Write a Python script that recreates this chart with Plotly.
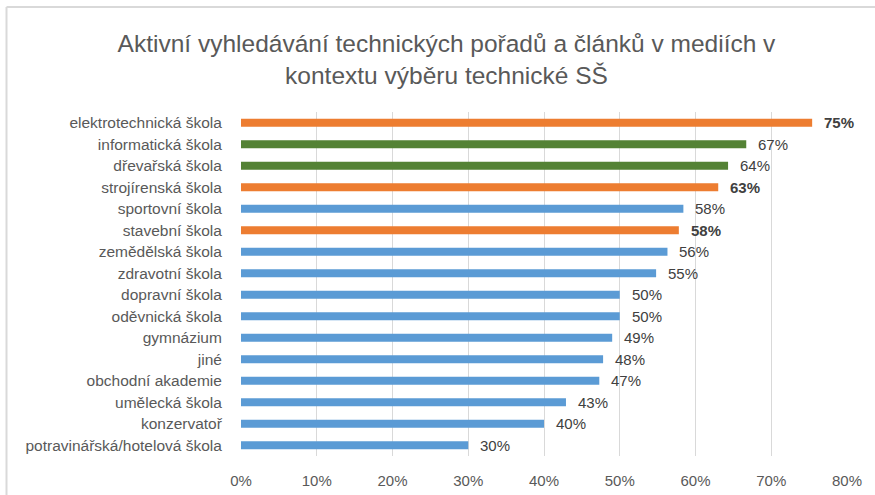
import plotly.graph_objects as go

categories = [
    "elektrotechnická škola", "informatická škola", "dřevařská škola",
    "strojírenská škola", "sportovní škola", "stavební škola",
    "zemědělská škola", "zdravotní škola", "dopravní škola",
    "oděvnická škola", "gymnázium", "jiné", "obchodní akademie",
    "umělecká škola", "konzervatoř", "potravinářská/hotelová škola",
]
values = [75.4, 66.7, 64.3, 63.0, 58.4, 57.8, 56.3, 54.8, 50.0, 50.0,
          49.0, 47.8, 47.3, 42.9, 40.0, 30.0]
groups = ["tech", "green", "green", "tech", "other", "tech", "other", "other",
          "other", "other", "other", "other", "other", "other", "other", "other"]
x_ticks = [0, 10, 20, 30, 40, 50, 60, 70, 80]
x_tick_labels = ["0%", "10%", "20%", "30%", "40%", "50%", "60%", "70%", "80%"]

color_map = {"tech": "#ED7D31", "green": "#548235", "other": "#5B9BD5"}
colors = [color_map[g] for g in groups]

FONT = "Liberation Sans"

fig = go.Figure()
fig.add_trace(go.Bar(
    x=values, y=categories, orientation="h",
    marker=dict(color=colors, line=dict(width=0)),
    width=0.38, hoverinfo="skip",
))

for c, v, g in zip(categories, values, groups):
    lbl = f"{round(v)}%"
    if g == "tech":
        lbl = f"<b>{lbl}</b>"
    fig.add_annotation(x=v, y=c, text=lbl, showarrow=False, xanchor="left",
                       xshift=10, font=dict(family=FONT, size=15, color="#404040"))

fig.update_layout(
    width=875, height=495,
    margin=dict(l=241, r=28, t=112, b=39),
    paper_bgcolor="white", plot_bgcolor="white",
    showlegend=False,
    title=dict(
        text="Aktivní vyhledávání technických pořadů a článků v mediích v<br>kontextu výběru technické SŠ",
        x=446.5 / 875, xref="container", y=1 - 52 / 495, yref="container",
        yanchor="middle", xanchor="center",
        font=dict(family=FONT, size=24.5, color="#595959"),
    ),
    xaxis=dict(
        range=[0, 80], tickvals=x_ticks, ticktext=x_tick_labels,
        showgrid=True, gridcolor="#D9D9D9", gridwidth=1, zeroline=False,
        showline=False, ticks="outside", ticklen=11, tickcolor="rgba(0,0,0,0)",
        tickfont=dict(family=FONT, size=15, color="#595959"),
        fixedrange=True, automargin=False,
    ),
    yaxis=dict(
        autorange="reversed", categoryorder="array", categoryarray=categories,
        showgrid=False, zeroline=False, showline=False,
        ticks="outside", ticklen=15, tickcolor="rgba(0,0,0,0)",
        tickfont=dict(family=FONT, size=15.5, color="#595959"),
        fixedrange=True, automargin=False,
    ),
    shapes=[
        dict(type="line", xref="paper", yref="paper", x0=(6.5 - 241) / 606, x1=(875 - 241) / 606,
             y0=(456 - 7) / 344, y1=(456 - 7) / 344, line=dict(color="#D9D9D9", width=2)),
        dict(type="line", xref="paper", yref="paper", x0=(6.5 - 241) / 606, x1=(6.5 - 241) / 606,
             y0=(456 - 7) / 344, y1=(456 - 495) / 344, line=dict(color="#D9D9D9", width=2)),
    ],
)

fig.write_html("out.html", config={"displayModeBar": False, "staticPlot": True},
               post_script="document.body.style.margin='0';document.body.style.padding='0';")
